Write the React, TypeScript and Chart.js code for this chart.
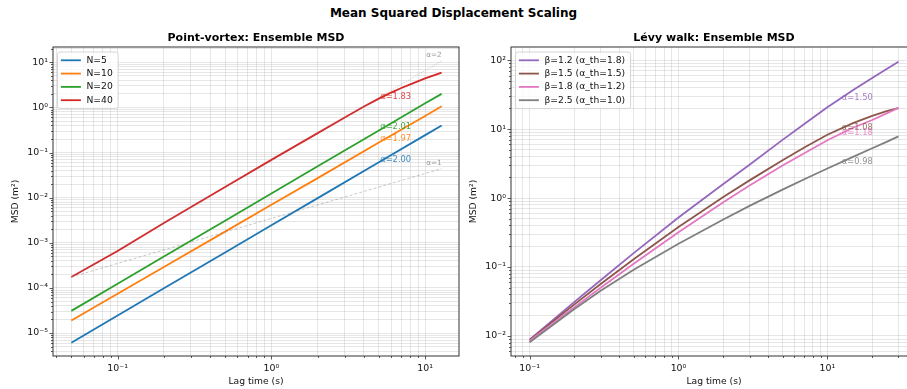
import React, { useEffect, useRef } from 'react';
import { Chart, registerables } from 'chart.js';
Chart.register(...registerables);

const FONT = "'DejaVu Sans', 'Liberation Sans', sans-serif";

// ---------- Left panel: point-vortex ----------
const lagPV = [0.05, 0.1, 0.2, 0.5, 1, 2, 5, 10, 12.8];
const msdN5 = [6.1e-6, 2.45e-5, 9.8e-5, 6.1e-4, 2.44e-3, 9.8e-3, 0.061, 0.244, 0.4];
const msdN10 = [1.9e-5, 7.4e-5, 2.9e-4, 1.77e-3, 6.96e-3, 0.0272, 0.167, 0.65, 1.06];
const msdN20 = [3.1e-5, 1.24e-4, 4.96e-4, 3.1e-3, 0.0124, 0.0496, 0.31, 1.24, 2.0];
const lagPV40 = [0.05, 0.1, 0.2, 0.5, 1, 2, 3, 4, 5, 6, 7, 8, 10, 12.8];
const msdN40 = [1.75e-4, 6.6e-4, 2.75e-3, 0.0172, 0.069, 0.27, 0.6, 1.05, 1.57, 2.13, 2.7, 3.25, 4.4, 5.9];
const refLag = [0.05, 12.8];
const refAlpha2 = [1.75e-4, 10.8];
const refAlpha1 = [1.75e-4, 0.044];
const refText = ['α=2', 'α=1'];
const refTextY = [14.5, 0.057];
const pvLabels = ['N=5', 'N=10', 'N=20', 'N=40'];
const pvColors = ['#1f77b4', '#ff7f0e', '#2ca02c', '#d62728'];
const pvAlphaText = ['α=2.00', 'α=1.97', 'α=2.01', 'α=1.83'];
const pvAlphaT = 5.1;
const pvAlphaY = [0.07, 0.205, 0.365, 1.72];
const pvXRange = [0.038, 16.6];
const pvYRange = [3.1e-6, 21.9];
const pvXTicks = [0.1, 1, 10];
const pvXTickLabels = ['10⁻¹', '10⁰', '10¹'];
const pvYTicks = [1e-5, 1e-4, 1e-3, 1e-2, 1e-1, 1, 10];
const pvYTickLabels = ['10⁻⁵', '10⁻⁴', '10⁻³', '10⁻²', '10⁻¹', '10⁰', '10¹'];

// ---------- Right panel: Lévy walk ----------
const lagLW = [0.1, 0.2, 0.3, 0.5, 1, 2, 3, 5, 7, 10, 15, 20, 25, 30];
const msdB12 = [0.0088, 0.0311, 0.0642, 0.1586, 0.5225, 1.6, 3.05, 7.0, 11.9, 20.8, 37.5, 55.5, 75, 95];
const msdB15 = [0.0087, 0.0286, 0.0566, 0.1295, 0.379, 1.036, 1.807, 3.545, 5.42, 8.31, 12.37, 15.57, 18.3, 20.3];
const msdB18 = [0.0085, 0.0261, 0.0499, 0.1113, 0.319, 0.872, 1.526, 2.965, 4.47, 6.9, 10.6, 13.6, 17.0, 20.4];
const msdB25 = [0.0081, 0.02455, 0.0451, 0.0913, 0.2171, 0.4886, 0.7696, 1.329, 1.88, 2.685, 3.996, 5.28, 6.54, 7.85];
const lwLabels = ['β=1.2 (α_th=1.8)', 'β=1.5 (α_th=1.5)', 'β=1.8 (α_th=1.2)', 'β=2.5 (α_th=1.0)'];
const lwColors = ['#9467bd', '#8c564b', '#e377c2', '#7f7f7f'];
const lwAlphaText = ['α=1.50', 'α=1.08', 'α=1.18', 'α=0.98'];
const lwAlphaT = 12.5;
const lwAlphaY = [28.7, 10.6, 8.93, 3.36];
const lwXRange = [0.075, 40];
const lwYRange = [0.0051, 156];
const lwXTicks = [0.1, 1, 10];
const lwXTickLabels = ['10⁻¹', '10⁰', '10¹'];
const lwYTicks = [0.01, 0.1, 1, 10, 100];
const lwYTickLabels = ['10⁻²', '10⁻¹', '10⁰', '10¹', '10²'];

function isPow10(v: number) {
  const l = Math.log10(v);
  return Math.abs(l - Math.round(l)) < 1e-6;
}

function buildTicks(min: number, max: number) {
  const out: number[] = [];
  const e0 = Math.floor(Math.log10(min));
  const e1 = Math.ceil(Math.log10(max));
  for (let e = e0; e <= e1; e++) {
    for (let m = 1; m <= 9; m++) {
      const v = parseFloat((m * Math.pow(10, e)).toPrecision(6));
      if (v >= min && v <= max) out.push(v);
    }
  }
  return out;
}

function logAxis(range: number[], tv: number[], tl: string[], isX: boolean, size: number, pad: number) {
  return {
    type: 'logarithmic',
    position: isX ? 'bottom' : 'left',
    min: range[0],
    max: range[1],
    afterBuildTicks: (s: any) => {
      s.ticks = buildTicks(range[0], range[1]).map((v) => ({ value: v }));
    },
    afterFit: (s: any) => {
      if (isX) s.height = size;
      else s.width = size;
    },
    ticks: {
      autoSkip: false,
      maxRotation: 0,
      minRotation: 0,
      padding: pad,
      color: '#111',
      font: { family: FONT, size: 9.4 },
      callback: (v: number) => {
        const i = tv.findIndex((t) => Math.abs(t - v) / t < 1e-6);
        return i >= 0 ? tl[i] : '';
      },
    },
    grid: { drawTicks: false, color: 'rgba(176,176,176,0.4)', lineWidth: 0.8 },
    border: { display: false },
  };
}

type Spec = {
  title: string;
  legendLabels: string[];
  legendColors: string[];
  annText: string[];
  annT: number;
  annY: number[];
  refT?: number;
  refText?: string[];
  refY?: number[];
};

function panelPlugin(spec: Spec) {
  return {
    id: 'panelDeco',
    afterDatasetsDraw(chart: any) {
      const ctx = chart.ctx;
      const a = chart.chartArea;
      const xs = chart.scales.x;
      const ys = chart.scales.y;
      ctx.save();
      // slope annotations
      ctx.font = `8.3px ${FONT}`;
      ctx.textAlign = 'left';
      ctx.textBaseline = 'middle';
      ctx.globalAlpha = 0.85;
      spec.annText.forEach((t, i) => {
        ctx.fillStyle = spec.legendColors[i];
        ctx.fillText(t, xs.getPixelForValue(spec.annT), ys.getPixelForValue(spec.annY[i]));
      });
      ctx.globalAlpha = 1;
      if (spec.refText && spec.refY && spec.refT) {
        ctx.font = `7.2px ${FONT}`;
        ctx.textAlign = 'right';
        ctx.fillStyle = '#999';
        spec.refText.forEach((t, i) => {
          ctx.fillText(t, xs.getPixelForValue(spec.refT), ys.getPixelForValue(spec.refY![i]));
        });
      }
      // frame
      ctx.strokeStyle = '#333';
      ctx.lineWidth = 1;
      ctx.strokeRect(a.left, a.top, a.right - a.left, a.bottom - a.top);
      // tick marks
      ctx.lineWidth = 0.8;
      xs.ticks.forEach((t: any) => {
        const px = Math.round(xs.getPixelForValue(t.value)) + 0.5;
        const len = isPow10(t.value) ? 3.5 : 2;
        ctx.beginPath();
        ctx.moveTo(px, a.bottom);
        ctx.lineTo(px, a.bottom + len);
        ctx.stroke();
      });
      ys.ticks.forEach((t: any) => {
        const py = Math.round(ys.getPixelForValue(t.value)) + 0.5;
        const len = isPow10(t.value) ? 3.5 : 2;
        ctx.beginPath();
        ctx.moveTo(a.left, py);
        ctx.lineTo(a.left - len, py);
        ctx.stroke();
      });
      ctx.restore();
    },
    afterDraw(chart: any) {
      const ctx = chart.ctx;
      const a = chart.chartArea;
      ctx.save();
      // legend
      ctx.font = `9.2px ${FONT}`;
      const tw = Math.max(...spec.legendLabels.map((l) => ctx.measureText(l).width));
      const bx = a.left + 4.5;
      const by = a.top + 5;
      const bw = 29 + tw + 5.4;
      const bh = 56.6;
      ctx.beginPath();
      ctx.roundRect(bx, by, bw, bh, 2.5);
      ctx.fillStyle = 'rgba(255,255,255,0.8)';
      ctx.fill();
      ctx.strokeStyle = '#cccccc';
      ctx.lineWidth = 0.8;
      ctx.stroke();
      spec.legendLabels.forEach((l, i) => {
        const y = by + 8.3 + i * 13.3;
        ctx.strokeStyle = spec.legendColors[i];
        ctx.lineWidth = 1.8;
        ctx.beginPath();
        ctx.moveTo(bx + 3.4, y);
        ctx.lineTo(bx + 23.4, y);
        ctx.stroke();
        ctx.fillStyle = '#111';
        ctx.textAlign = 'left';
        ctx.textBaseline = 'middle';
        ctx.fillText(l, bx + 29, y);
      });
      // titles
      const cx = (a.left + a.right) / 2;
      ctx.fillStyle = '#000';
      ctx.textAlign = 'center';
      ctx.textBaseline = 'middle';
      ctx.font = `bold 11px ${FONT}`;
      ctx.fillText(spec.title, cx, 38.3);
      ctx.font = `9.2px ${FONT}`;
      ctx.fillStyle = '#111';
      ctx.fillText('Lag time (s)', cx, 381.7);
      ctx.translate(a.left - 37, (a.top + a.bottom) / 2);
      ctx.rotate(-Math.PI / 2);
      ctx.fillText('MSD (m²)', 0, 0);
      ctx.restore();
    },
  };
}

function line(label: string, xs: number[], ys: number[], color: string, order: number, width = 1.8, dash: number[] = []) {
  return {
    label,
    data: xs.map((x, i) => ({ x, y: ys[i] })),
    borderColor: color,
    backgroundColor: color,
    borderWidth: width,
    borderDash: dash,
    pointRadius: 0,
    tension: 0,
    fill: false,
    order,
  };
}

function makeConfig(datasets: any[], xr: number[], yr: number[], xt: number[], xl: string[], yt: number[], yl: string[], yAxisW: number, padRight: number, spec: Spec) {
  return {
    type: 'line',
    data: { datasets },
    options: {
      responsive: false,
      maintainAspectRatio: false,
      animation: false,
      events: [],
      layout: { padding: { left: 0, top: 47, right: padRight, bottom: 0 } },
      scales: {
        x: logAxis(xr, xt, xl, true, 33, 7),
        y: logAxis(yr, yt, yl, false, yAxisW, 5),
      },
      plugins: { legend: { display: false }, title: { display: false }, tooltip: { enabled: false } },
    },
    plugins: [panelPlugin(spec)],
  } as any;
}

export default function App() {
  const leftRef = useRef<HTMLCanvasElement>(null);
  const rightRef = useRef<HTMLCanvasElement>(null);

  useEffect(() => {
    const pvSets = [
      line(pvLabels[0], lagPV, msdN5, pvColors[0], 0),
      line(pvLabels[1], lagPV, msdN10, pvColors[1], -1),
      line(pvLabels[2], lagPV, msdN20, pvColors[2], -2),
      line(pvLabels[3], lagPV40, msdN40, pvColors[3], -3),
      line('ref2', refLag, refAlpha2, 'rgba(128,128,128,0.55)', -5, 0.8, [1, 1.5]),
      line('ref1', refLag, refAlpha1, 'rgba(128,128,128,0.55)', -6, 0.8, [3, 2]),
    ];
    const lwSets = [
      line(lwLabels[0], lagLW, msdB12, lwColors[0], 0),
      line(lwLabels[1], lagLW, msdB15, lwColors[1], -1),
      line(lwLabels[2], lagLW, msdB18, lwColors[2], -2),
      line(lwLabels[3], lagLW, msdB25, lwColors[3], -3),
    ];
    const c1 = new Chart(
      leftRef.current!,
      makeConfig(pvSets, pvXRange, pvYRange, pvXTicks, pvXTickLabels, pvYTicks, pvYTickLabels, 53, 3, {
        title: 'Point-vortex: Ensemble MSD',
        legendLabels: pvLabels,
        legendColors: pvColors,
        annText: pvAlphaText,
        annT: pvAlphaT,
        annY: pvAlphaY,
        refT: 12.8,
        refText,
        refY: refTextY,
      })
    );
    const c2 = new Chart(
      rightRef.current!,
      makeConfig(lwSets, lwXRange, lwYRange, lwXTicks, lwXTickLabels, lwYTicks, lwYTickLabels, 49, 15, {
        title: 'Lévy walk: Ensemble MSD',
        legendLabels: lwLabels,
        legendColors: lwColors,
        annText: lwAlphaText,
        annT: lwAlphaT,
        annY: lwAlphaY,
      })
    );
    return () => {
      c1.destroy();
      c2.destroy();
    };
  }, []);

  return (
    <div style={{ position: 'fixed', left: 0, top: 0, width: 907, height: 389, overflow: 'hidden', background: '#fff' }}>
      <div
        style={{
          position: 'absolute',
          left: 0,
          top: 5,
          width: 907,
          textAlign: 'center',
          fontFamily: FONT,
          fontWeight: 'bold',
          fontSize: 12,
          lineHeight: '17px',
          color: '#000',
        }}
      >
        Mean Squared Displacement Scaling
      </div>
      <canvas ref={leftRef} width={462} height={389} style={{ position: 'absolute', left: 0, top: 0, width: 462, height: 389 }} />
      <canvas ref={rightRef} width={470} height={389} style={{ position: 'absolute', left: 462, top: 0, width: 470, height: 389 }} />
    </div>
  );
}
